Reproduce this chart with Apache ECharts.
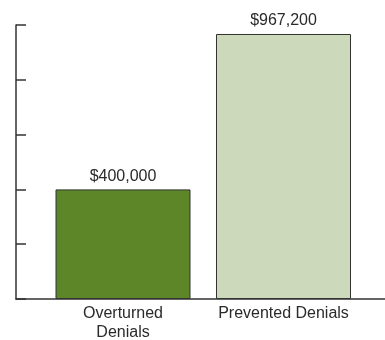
<!DOCTYPE html>
<html><head><meta charset="utf-8">
<script src="https://cdn.jsdelivr.net/npm/echarts@6/dist/echarts.min.js"></script>
<style>html,body{margin:0;padding:0;background:#fff}#c{width:385px;height:340px}</style>
</head><body><div id="c"></div>
<script>
var categories = ['Overturned\nDenials', 'Prevented Denials'];
var values = [400000, 967200];
var valueLabels = ['$400,000', '$967,200'];
var barColors = ['#5c8627', '#ccd9bb'];

var chart = echarts.init(document.getElementById('c'), null, {renderer: 'canvas'});
chart.setOption({
  animation: false,
  grid: [
    {left: 42.75, right: 21.25, top: 25, bottom: 41, containLabel: false, outerBoundsMode: 'none'},
    {left: 16, right: 0, top: 25, bottom: 41, containLabel: false, outerBoundsMode: 'none'}
  ],
  xAxis: [
    {type: 'category', gridIndex: 0, data: categories,
     axisLine: {show: false}, axisTick: {show: false},
     axisLabel: {color: '#2a2a2a', fontSize: 16, fontFamily: 'Liberation Sans, Arial, sans-serif', margin: 5, lineHeight: 19, interval: 0}},
    {type: 'category', gridIndex: 1, data: [''],
     axisLine: {show: true, lineStyle: {color: '#333', width: 1.5}}, axisTick: {show: false}, axisLabel: {show: false}}
  ],
  yAxis: [
    {type: 'value', gridIndex: 0, min: 0, max: 1000000, interval: 200000, offset: 26.75,
     axisLine: {show: true, lineStyle: {color: '#333', width: 1.5}},
     axisTick: {show: true, inside: true, length: 10, lineStyle: {color: '#333', width: 1.5}},
     axisLabel: {show: false}, splitLine: {show: false}},
    {type: 'value', gridIndex: 1, show: false, min: 0, max: 1, splitLine: {show: false}}
  ],
  series: [{
    type: 'bar', xAxisIndex: 0, yAxisIndex: 0,
    barWidth: 135,
    data: values.map(function (v, i) {
      return {value: v, itemStyle: {color: barColors[i]}, label: {formatter: valueLabels[i]}};
    }),
    itemStyle: {borderColor: '#333', borderWidth: 1},
    label: {show: true, position: 'top', distance: 5, color: '#2a2a2a', fontSize: 16, fontFamily: 'Liberation Sans, Arial, sans-serif'}
  }]
});
</script></body></html>
